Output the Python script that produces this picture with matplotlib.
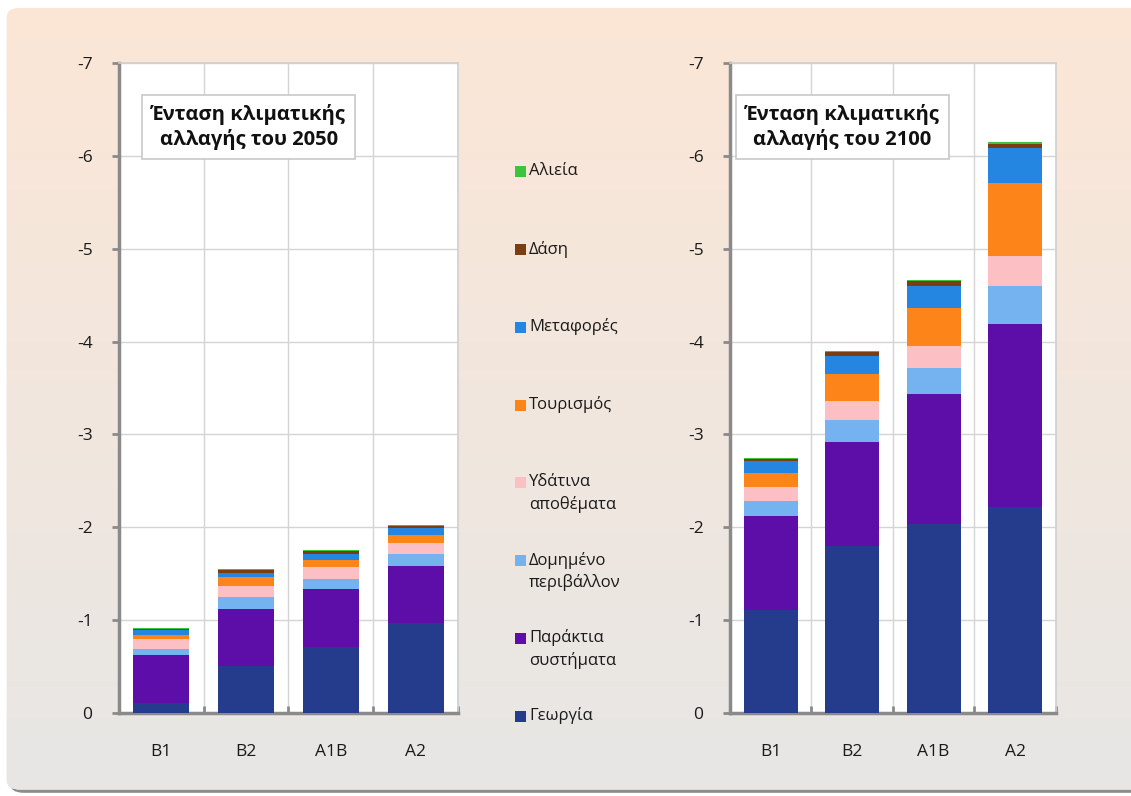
import matplotlib.pyplot as plt
import numpy as np
from matplotlib.patches import FancyBboxPatch, Rectangle

plt.rcParams['font.family'] = ['Open Sans', 'DejaVu Sans']

scenarios = ['B1', 'B2', 'A1B', 'A2']
sectors = ['Γεωργία', 'Παράκτια\nσυστήματα', 'Δομημένο\nπεριβάλλον', 'Υδάτινα\nαποθέματα',
           'Τουρισμός', 'Μεταφορές', 'Δάση', 'Αλιεία']
colors = ['#253b8b', '#5d0ea9', '#74b2f0', '#fbbfc4', '#fd8419', '#2586e1', '#7a3e10', '#3cc43c']

# one row per sector (bottom to top), one value per scenario
data_2050 = [
    [-0.11, -0.51, -0.71, -0.97],
    [-0.51, -0.61, -0.62, -0.61],
    [-0.07, -0.13, -0.11, -0.13],
    [-0.11, -0.12, -0.13, -0.12],
    [-0.04, -0.09, -0.08, -0.09],
    [-0.05, -0.05, -0.06, -0.07],
    [-0.01, -0.03, -0.03, -0.02],
    [-0.01, -0.01, -0.01, -0.01],
]
data_2100 = [
    [-1.11, -1.80, -2.03, -2.22],
    [-1.01, -1.12, -1.41, -1.97],
    [-0.16, -0.23, -0.28, -0.41],
    [-0.15, -0.21, -0.23, -0.32],
    [-0.15, -0.29, -0.41, -0.79],
    [-0.13, -0.19, -0.24, -0.37],
    [-0.03, -0.05, -0.05, -0.05],
    [-0.01, -0.01, -0.01, -0.02],
]
titles = ['Ένταση κλιματικής\nαλλαγής του 2050', 'Ένταση κλιματικής\nαλλαγής του 2100']

fig = plt.figure(figsize=(11.31, 7.96), dpi=100)
fig.patch.set_facecolor('white')

# background panel with gradient
bg = fig.add_axes([0, 0, 1, 1], zorder=-5)
bg.set_xlim(0, 1)
bg.set_ylim(0, 1)
bg.axis('off')
shadow = FancyBboxPatch((0.009, 0.004), 1.1, 0.98, boxstyle='round,pad=0,rounding_size=0.012',
                        facecolor='#8c8c8c', edgecolor='none', transform=bg.transAxes)
bg.add_patch(shadow)
panel = FancyBboxPatch((0.006, 0.008), 1.1, 0.982, boxstyle='round,pad=0,rounding_size=0.012',
                       facecolor='#f0e6dc', edgecolor='none', transform=bg.transAxes)
bg.add_patch(panel)
top = np.array([252, 231, 214]) / 255
bottom = np.array([231, 230, 229]) / 255
t = np.linspace(0, 1, 256)[:, None]
grad = (top[None, :] * (1 - t) + bottom[None, :] * t)[:, None, :]
im = bg.imshow(grad, extent=[0, 1, 0, 1], aspect='auto', origin='upper', zorder=1)
im.set_clip_path(panel)

axes_pos = [[0.1052, 0.1043, 0.2997, 0.8166], [0.6454, 0.1043, 0.2882, 0.8166]]
title_x = [0.383, 0.344]
x = np.arange(len(scenarios))

for k, data in enumerate([data_2050, data_2100]):
    ax = fig.add_axes(axes_pos[k])
    ax.set_facecolor('white')
    base = np.zeros(len(scenarios))
    for row, col, lab in zip(data, colors, sectors):
        ax.bar(x, row, width=0.66, bottom=base, color=col, label=lab, zorder=3)
        base = base + np.array(row)
    ax.set_xlim(-0.5, 3.5)
    ax.set_ylim(0, -7)
    ax.set_yticks(range(0, -8, -1))
    ax.set_yticklabels([str(v) if v == 0 else '-%d' % -v for v in range(0, -8, -1)])
    ax.set_xticks(x)
    ax.set_xticklabels(scenarios)
    ax.set_xticks([0.5, 1.5, 2.5, 3.5], minor=True)
    ax.grid(axis='y', color='#d4d4d4', linewidth=1, zorder=0)
    ax.grid(axis='x', which='minor', color='#d4d4d4', linewidth=1, zorder=0)
    ax.tick_params(axis='y', length=5, width=2, color='#8a8a8a', pad=14, labelsize=12.5, labelcolor='#1a1a1a')
    ax.tick_params(axis='x', which='major', length=0, pad=22, labelsize=12.5, labelcolor='#1a1a1a')
    ax.tick_params(axis='x', which='minor', direction='in', length=5, width=2, color='#8a8a8a')
    for s in ['left', 'bottom']:
        ax.spines[s].set_color('#8a8a8a')
        ax.spines[s].set_linewidth(2.5)
    for s in ['top', 'right']:
        ax.spines[s].set_color('#d0d0d0')
        ax.spines[s].set_linewidth(1.2)
    ax.text(title_x[k], 0.902, titles[k], transform=ax.transAxes, ha='center', va='center',
            fontsize=14.5, fontweight='bold', color='#111111', linespacing=1.25, zorder=5,
            bbox=dict(boxstyle='square,pad=0.45', facecolor='white', edgecolor='#c8c8c8', linewidth=1.2))

# legend in the middle, top entry first
leg_y = np.linspace(1 - 172 / 796, 1 - 716 / 796, len(sectors))
for yy, lab, col in zip(leg_y, sectors[::-1], colors[::-1]):
    fig.patches.append(Rectangle((515 / 1131, yy - 5.5 / 796), 11 / 1131, 11 / 796,
                                 facecolor=col, edgecolor='none', transform=fig.transFigure))
    fig.text(529 / 1131, yy + 9 / 796, lab, ha='left', va='top', fontsize=12,
             color='#1a1a1a', linespacing=1.45)

fig.savefig('out.png', dpi=100)
